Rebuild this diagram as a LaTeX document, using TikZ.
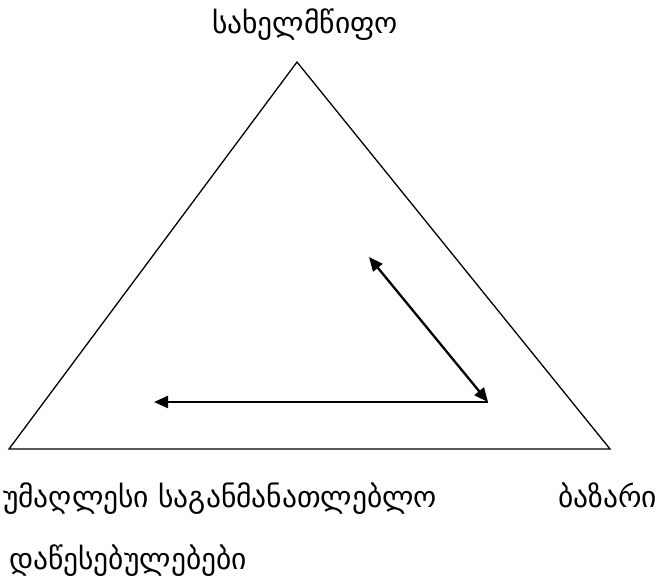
\documentclass[tikz,border=0pt]{standalone}
\usepackage{fontspec}
\newfontfamily\geofont[Script=Georgian]{DejaVu Sans}
\usetikzlibrary{arrows.meta}

\tikzset{
  geolabel/.style={font=\geofont\fontsize{29.5}{33}\selectfont, inner sep=0pt},
  dblarrow/.style={{Triangle[length=14pt,width=12pt]}-{Triangle[length=14pt,width=12pt]}, line width=2.3pt},
  onearrow/.style={-{Triangle[length=14pt,width=12pt]}, line width=2.3pt}
}

\begin{document}
\begin{tikzpicture}[x=1pt, y=-1pt]
    \useasboundingbox (0,0) rectangle (672,582);

    % Triangle corners
    \coordinate (State) at (297,62);
    \coordinate (Univ) at (9,449);
    \coordinate (Market) at (610,449);
    \draw[line width=1.3pt] (State) -- (Market) -- (Univ) -- cycle;

    % Corner labels
    \node[geolabel, anchor=base] (statelbl) at (305,33) {სახელმწიფო};
    \node[geolabel, anchor=base west] (univlbl) at (3,507) {უმაღლესი საგანმანათლებლო};
    \node[geolabel, anchor=base west] (univlbl2) at (9,569) {დაწესებულებები};
    \node[geolabel, anchor=base west] (marketlbl) at (558,507) {ბაზარი};

    % Arrows inside
    \coordinate (Corner) at (488,402);
    \coordinate (UpEnd) at (369,257);
    \coordinate (LeftEnd) at (154,402);
    \draw[dblarrow] (UpEnd) -- (Corner);
    \draw[onearrow] (Corner) -- (LeftEnd);
\end{tikzpicture}
\end{document}
